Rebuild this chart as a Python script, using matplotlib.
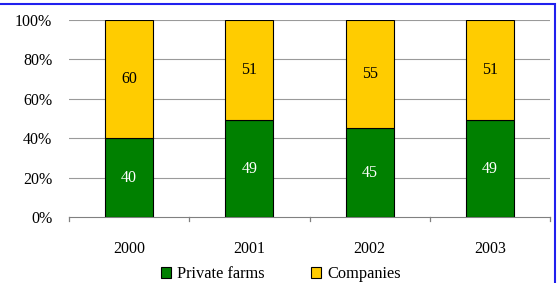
import matplotlib.pyplot as plt
from matplotlib.patches import Rectangle

years = ["2000", "2001", "2002", "2003"]
private_farms = [40, 49, 45, 49]
companies = [60, 51, 55, 51]

plt.rcParams["font.family"] = ["Liberation Serif", "DejaVu Serif"]

fig = plt.figure(figsize=(5.6, 2.83), dpi=100)
ax = fig.add_axes([69 / 560, 1 - 217 / 283, 481 / 560, 197 / 283])

x = range(len(years))
ax.bar(x, private_farms, width=0.4, color="#008000", edgecolor="black",
       linewidth=0.8, label="Private farms", zorder=3)
ax.bar(x, companies, width=0.4, bottom=private_farms, color="#FFCC00",
       edgecolor="black", linewidth=0.8, label="Companies", zorder=3)

for i in x:
    ax.text(i, private_farms[i] / 2, str(private_farms[i]), ha="center",
            va="center", color="white", fontsize=11.5, zorder=4)
    ax.text(i, private_farms[i] + companies[i] / 2, str(companies[i]),
            ha="center", va="center", color="black", fontsize=11.5, zorder=4)

ax.set_xlim(-0.5, 3.5)
ax.set_ylim(0, 100)
ax.set_yticks([0, 20, 40, 60, 80, 100])
ax.set_yticklabels([f"{v}%" for v in range(0, 101, 20)], fontsize=11.5)
ax.set_xticks(list(x))
ax.set_xticklabels(years, fontsize=11.5)
ax.tick_params(axis="y", length=0, pad=12)
ax.tick_params(axis="x", length=0, pad=17)
# category boundary ticks
for b in [-0.5, 0.5, 1.5, 2.5, 3.5]:
    ax.plot([b, b], [0, -2.2], color="#808080", lw=0.9, clip_on=False)

for v in [20, 40, 60, 80, 100]:
    ax.axhline(v, color="#9a9a9a", lw=0.8, zorder=1)

for s in ["top", "right", "left"]:
    ax.spines[s].set_visible(False)
ax.spines["bottom"].set_color("#808080")

ax.legend(loc="upper center", bbox_to_anchor=(0.44, -0.215), ncol=2,
          frameon=False, fontsize=11.8, handlelength=0.65, handleheight=0.65,
          columnspacing=2.8, handletextpad=0.35, borderaxespad=0)

fig.patches.append(Rectangle((-0.1, -0.1), 555 / 560 + 0.1, 1 - 4 / 283 + 0.1,
                             transform=fig.transFigure, fill=False,
                             edgecolor="#2020ee", lw=1.5))

fig.savefig("out.png", dpi=100)
